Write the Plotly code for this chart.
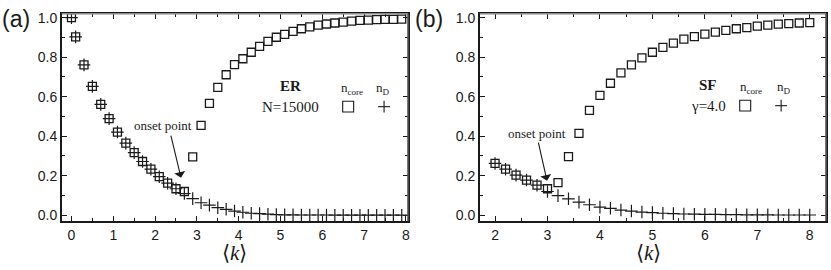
import plotly.graph_objects as go

# ---------------- data ----------------
er_k = [0, 0.1, 0.3, 0.5, 0.7, 0.9, 1.1, 1.3, 1.5, 1.7, 1.9, 2.1, 2.3, 2.5, 2.7,
        2.9, 3.1, 3.3, 3.5, 3.7, 3.9, 4.1, 4.3, 4.5, 4.7, 4.9, 5.1, 5.3, 5.5, 5.7,
        5.9, 6.1, 6.3, 6.5, 6.7, 6.9, 7.1, 7.3, 7.5, 7.7, 7.9]
er_core = [1.0, 0.903, 0.761, 0.652, 0.561, 0.489, 0.421, 0.365, 0.317, 0.272, 0.233,
           0.195, 0.162, 0.134, 0.120,
           0.295, 0.455, 0.566, 0.647, 0.711, 0.762, 0.792, 0.825, 0.855, 0.880, 0.901,
           0.916, 0.931, 0.944, 0.954, 0.962, 0.968, 0.973, 0.978, 0.983, 0.986, 0.988,
           0.990, 0.991, 0.991, 0.993]
er_nD = [1.0, 0.903, 0.761, 0.652, 0.561, 0.489, 0.421, 0.365, 0.317, 0.272, 0.233,
         0.195, 0.162, 0.134, 0.110,
         0.084, 0.063, 0.051, 0.038, 0.030, 0.021, 0.015, 0.010, 0.008, 0.005, 0.003,
         0.002, 0.002, 0.001, 0.001, 0.001, 0.001, 0.0, 0.0, 0.0, 0.0, 0.0,
         0.0, 0.0, 0.0, 0.0]

sf_k = [2.0, 2.2, 2.4, 2.6, 2.8, 3.0, 3.2, 3.4, 3.6, 3.8, 4.0, 4.2, 4.4, 4.6, 4.8,
        5.0, 5.2, 5.4, 5.6, 5.8, 6.0, 6.2, 6.4, 6.6, 6.8, 7.0, 7.2, 7.4, 7.6, 7.8, 8.0]
sf_core = [0.262, 0.233, 0.203, 0.178, 0.152, 0.134,
           0.165, 0.297, 0.414, 0.531, 0.607, 0.668, 0.721, 0.761, 0.797, 0.825,
           0.850, 0.871, 0.891, 0.904, 0.917, 0.927, 0.936, 0.944, 0.950, 0.957,
           0.962, 0.967, 0.970, 0.973, 0.975]
sf_nD = [0.262, 0.233, 0.203, 0.178, 0.152, 0.120,
         0.099, 0.083, 0.066, 0.053, 0.041, 0.035, 0.026, 0.021, 0.016, 0.013,
         0.010, 0.008, 0.006, 0.005, 0.004, 0.004, 0.003, 0.003, 0.002, 0.002,
         0.002, 0.001, 0.001, 0.001, 0.001]

# ---------------- figure ----------------
W, H = 831, 270
INK = "#1a1a1a"
GREY = "#8a8a8a"
sq = dict(symbol="square-open", size=8, color=INK, line=dict(width=1.3, color=INK))
pl = dict(symbol="cross-thin-open", size=9, color=INK, line=dict(width=1.2, color=INK))

fig = go.Figure()
fig.add_trace(go.Scatter(x=er_k, y=er_core, mode="markers", marker=sq, xaxis="x", yaxis="y", showlegend=False))
fig.add_trace(go.Scatter(x=er_k, y=er_nD, mode="markers", marker=pl, xaxis="x", yaxis="y", showlegend=False))
fig.add_trace(go.Scatter(x=sf_k, y=sf_core, mode="markers", marker=sq, xaxis="x2", yaxis="y2", showlegend=False))
fig.add_trace(go.Scatter(x=sf_k, y=sf_nD, mode="markers", marker=pl, xaxis="x2", yaxis="y2", showlegend=False))

def px(xp):
    return xp / W

def py(yp):
    return 1 - yp / H

ydom = [py(222), py(10)]
tickfont = dict(family="Liberation Sans, Arial", size=14, color=INK)
axis_common = dict(showline=True, linecolor=INK, linewidth=1.6, mirror="allticks",
                   ticks="inside", ticklen=5, tickwidth=1, tickcolor=INK,
                   showgrid=False, zeroline=False, tickfont=tickfont)

fig.update_layout(
    width=W, height=H, margin=dict(l=0, r=0, t=0, b=0),
    paper_bgcolor="white", plot_bgcolor="white",
    xaxis=dict(domain=[px(62), px(409)], range=[-0.23, 8.05], dtick=1, tick0=0,
               minor=dict(dtick=0.5, ticks="inside", ticklen=3, tickcolor=INK),
               anchor="y", **axis_common),
    yaxis=dict(domain=ydom, range=[-0.0297, 1.0198], dtick=0.2, tick0=0, tickformat=".1f",
               minor=dict(dtick=0.1, ticks="inside", ticklen=3, tickcolor=INK),
               anchor="x", **axis_common),
    xaxis2=dict(domain=[px(481), px(828)], range=[1.71, 8.31], dtick=1, tick0=0,
                minor=dict(dtick=0.5, ticks="inside", ticklen=3, tickcolor=INK),
                anchor="y2", **axis_common),
    yaxis2=dict(domain=ydom, range=[-0.0297, 1.0198], dtick=0.2, tick0=0, tickformat=".1f",
                minor=dict(dtick=0.1, ticks="inside", ticklen=3, tickcolor=INK),
                anchor="x2", **axis_common),
)

serif = "Liberation Serif, Times New Roman, serif"
ann = []
# panel labels
ann.append(dict(text="(a)", x=px(0), y=py(15), xref="paper", yref="paper", xanchor="left", yanchor="middle",
                showarrow=False, font=dict(family="Liberation Sans, Arial", size=23, color=INK)))
ann.append(dict(text="(b)", x=px(414), y=py(15), xref="paper", yref="paper", xanchor="left", yanchor="middle",
                showarrow=False, font=dict(family="Liberation Sans, Arial", size=23, color=INK)))
# axis titles
for xc in (235, 650):
    ann.append(dict(text="\u27e8<i>k</i>\u27e9", x=px(xc), y=py(255), xref="paper", yref="paper",
                    xanchor="center", yanchor="middle", showarrow=False,
                    font=dict(family=serif, size=21, color=INK)))
# onset arrows
ann.append(dict(text="onset point", x=px(163), y=py(124), xref="paper", yref="paper", showarrow=False,
                xanchor="center", yanchor="middle", font=dict(family=serif, size=13, color=INK)))
ann.append(dict(x=2.62, y=0.19, ax=2.37, ay=0.41, xref="x", yref="y", axref="x", ayref="y",
                text="", showarrow=True, arrowhead=1, arrowsize=1.7, arrowwidth=1.1, arrowcolor=INK))
ann.append(dict(text="onset point", x=px(538), y=py(132), xref="paper", yref="paper", showarrow=False,
                xanchor="center", yanchor="middle", font=dict(family=serif, size=13, color=INK)))
ann.append(dict(x=2.99, y=0.175, ax=2.82, ay=0.375, xref="x2", yref="y2", axref="x2", ayref="y2",
                text="", showarrow=True, arrowhead=1, arrowsize=1.7, arrowwidth=1.1, arrowcolor=INK))

# legend-like texts
def legend(title, sub, tx, ncx, ndx, ty1, ty2):
    ann.append(dict(text="<b>%s</b>" % title, x=px(tx), y=py(ty1), xref="paper", yref="paper", showarrow=False,
                    xanchor="center", yanchor="middle", font=dict(family=serif, size=15, color=INK)))
    ann.append(dict(text="n<sub>core</sub>", x=px(ncx), y=py(ty1 + 2), xref="paper", yref="paper", showarrow=False,
                    xanchor="center", yanchor="middle", font=dict(family=serif, size=13, color=INK)))
    ann.append(dict(text="n<sub>D</sub>", x=px(ndx), y=py(ty1 + 2), xref="paper", yref="paper", showarrow=False,
                    xanchor="center", yanchor="middle", font=dict(family=serif, size=13, color=INK)))
    ann.append(dict(text=sub, x=px(tx), y=py(ty2), xref="paper", yref="paper", showarrow=False,
                    xanchor="center", yanchor="middle", font=dict(family=serif, size=15, color=INK)))

legend("ER", "N=15000", 291, 353, 384, 84, 105)
legend("SF", "\u03b3=4.0", 710, 753, 786, 83, 104)

shapes = []
for sx, sy, plx in ((349, 105, 385), (747, 104, 783)):
    shapes.append(dict(type="rect", xref="paper", yref="paper", x0=px(sx - 5.5), x1=px(sx + 5.5),
                       y0=py(sy + 5.5), y1=py(sy - 5.5), line=dict(color=INK, width=1.1)))
    shapes.append(dict(type="line", xref="paper", yref="paper", x0=px(plx - 6), x1=px(plx + 6),
                       y0=py(sy), y1=py(sy), line=dict(color=INK, width=1.1)))
    shapes.append(dict(type="line", xref="paper", yref="paper", x0=px(plx), x1=px(plx),
                       y0=py(sy - 6), y1=py(sy + 6), line=dict(color=INK, width=1.1)))

# lighter top / right frame lines (as in the reference)
for xr in ("x", "x2"):
    yr = "y" if xr == "x" else "y2"
    shapes.append(dict(type="line", xref=xr + " domain", yref=yr + " domain", x0=0, x1=1, y0=1, y1=1,
                       line=dict(color=GREY, width=1.6)))
    shapes.append(dict(type="line", xref=xr + " domain", yref=yr + " domain", x0=1, x1=1, y0=0, y1=1,
                       line=dict(color="#555555", width=1.6)))

fig.update_layout(annotations=ann, shapes=shapes)
fig.write_html("out.html", config={"displayModeBar": False},
               post_script="document.body.style.margin='0';document.body.style.overflow='hidden';")
